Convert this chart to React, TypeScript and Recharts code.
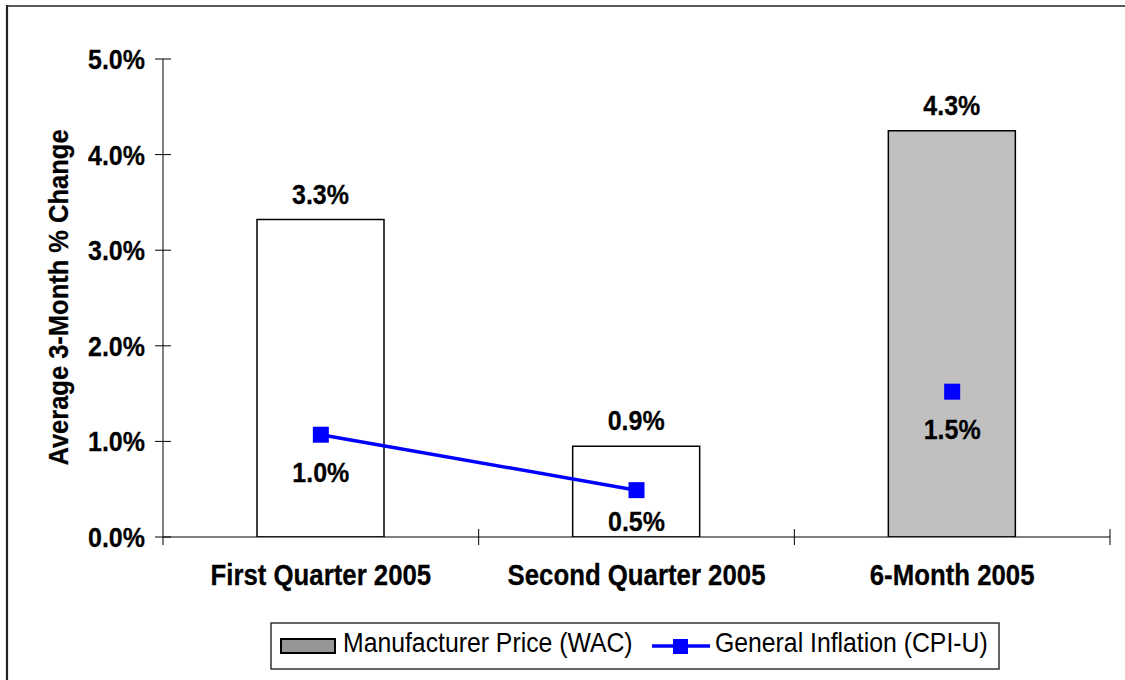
import React from 'react';
import { ComposedChart, Bar, Line, XAxis, YAxis, Cell, LabelList } from 'recharts';

const FONT = '"Liberation Sans", Arial, Helvetica, sans-serif';
const SY = 1.12;

const categories = ['First Quarter 2005', 'Second Quarter 2005', '6-Month 2005'];
const wacValues = [3.32, 0.95, 4.25];
const wacLabels = ['3.3%', '0.9%', '4.3%'];
const barFills = ['#ffffff', '#ffffff', '#c0c0c0'];
const cpiQuarterly = [1.07, 0.49, null];
const cpiSixMonth = [null, null, 1.52];
const cpiLabels = ['1.0%', '0.5%', '1.5%'];
const yTicks = [0, 1, 2, 3, 4, 5];
const legendNames = ['Manufacturer Price (WAC)', 'General Inflation (CPI-U)'];

const data = categories.map((name, i) => ({
  name,
  wac: wacValues[i],
  wacLabel: wacLabels[i],
  cpiQ: cpiQuarterly[i],
  cpiQLabel: cpiQuarterly[i] == null ? null : cpiLabels[i],
  cpi6: cpiSixMonth[i],
  cpi6Label: cpiSixMonth[i] == null ? null : cpiLabels[i],
}));

const Y_TICK_SIZE = 8;
const Y_TICK_MARGIN = 10;
const X_TICK_SIZE = 8;
const AXIS_BOTTOM = 537;

type STextProps = {
  x: number;
  y: number;
  children: React.ReactNode;
  size?: number;
  weight?: string;
  anchor?: 'start' | 'middle' | 'end';
  sy?: number;
  rotate?: number;
};

function SText({ x, y, children, size = 25, weight = 'bold', anchor = 'middle', sy = SY, rotate = 0 }: STextProps) {
  const t = rotate
    ? `translate(${x},${y}) rotate(${rotate}) scale(1,${sy})`
    : `translate(${x},${y}) scale(1,${sy})`;
  const heavy = weight === 'bold';
  return (
    <text
      transform={t}
      x={0}
      y={0}
      textAnchor={anchor}
      fontSize={size}
      fontWeight={weight}
      fontFamily={FONT}
      fill="#000"
      stroke={heavy ? '#000' : 'none'}
      strokeWidth={heavy ? 0.25 : 0}
    >
      {children}
    </text>
  );
}

const YTick = (p: any) => {
  const { x, y, payload } = p;
  const ax = x + Y_TICK_SIZE + Y_TICK_MARGIN;
  return (
    <g>
      <line x1={ax - 8} x2={ax + 8} y1={y} y2={y} stroke="#000" strokeWidth={1} />
      <SText x={x} y={y + 10} anchor="end">{Number(payload.value).toFixed(1) + '%'}</SText>
    </g>
  );
};

const XTick = (p: any) => {
  const { x, y, payload, index } = p;
  const axisY = y - X_TICK_SIZE;
  const half = payload && payload.offset ? payload.offset : 157.8;
  return (
    <g>
      <line x1={x + half} x2={x + half} y1={axisY - 8} y2={axisY + 8} stroke="#000" strokeWidth={1} />
      {index === 0 && <line x1={x - half} x2={x - half} y1={axisY} y2={axisY + 8} stroke="#000" strokeWidth={1} />}
      <SText x={x} y={axisY + 48} size={25.8}>{payload.value}</SText>
    </g>
  );
};

const BarLabel = (p: any) => {
  if (p.value == null) return null;
  const vb = p.viewBox || p;
  const cx = vb.x + (vb.width || 0) / 2;
  const top = Math.min(vb.y, vb.y + (vb.height || 0));
  return <SText x={cx} y={top - 16}>{p.value}</SText>;
};

const PointLabel = (p: any) => {
  if (p.value == null) return null;
  const vb = p.viewBox || p;
  const x = vb.x + (vb.width || 0) / 2;
  const y = vb.y;
  if (!Number.isFinite(x) || !Number.isFinite(y)) return null;
  return <SText x={x} y={Math.min(y + 47, AXIS_BOTTOM - 6)}>{p.value}</SText>;
};

const SquareDot = (p: any) => {
  const { cx, cy, index } = p;
  if (cx == null || cy == null || !Number.isFinite(cx) || !Number.isFinite(cy) || p.value == null) return <g key={`d-${index}`} />;
  return <rect key={`d-${index}`} x={cx - 8} y={cy - 8} width={16} height={16} fill="#0000ff" />;
};

export default function App() {
  return (
    <div style={{ position: 'absolute', left: 0, top: 0, width: 1125, height: 680, background: '#fff', overflow: 'hidden' }}>
      <ComposedChart width={1125} height={680} data={data} margin={{ top: 59, right: 15, bottom: 103, left: 0 }}>
        <XAxis
          dataKey="name"
          type="category"
          interval={0}
          height={40}
          tickSize={X_TICK_SIZE}
          tickMargin={0}
          tickLine={false}
          axisLine={{ stroke: '#000', strokeWidth: 1 }}
          tick={<XTick />}
        />
        <YAxis
          type="number"
          domain={[0, 5]}
          ticks={yTicks}
          width={163}
          tickSize={Y_TICK_SIZE}
          tickMargin={Y_TICK_MARGIN}
          tickLine={false}
          axisLine={{ stroke: '#000', strokeWidth: 1 }}
          tick={<YTick />}
          allowDataOverflow
        />
        <Bar dataKey="wac" barSize={127} stroke="#000" strokeWidth={1.5} isAnimationActive={false}>
          {data.map((d, i) => (
            <Cell key={`c-${i}`} fill={barFills[i]} />
          ))}
          <LabelList dataKey="wacLabel" content={<BarLabel />} />
        </Bar>
        <Line
          dataKey="cpiQ"
          stroke="#0000ff"
          strokeWidth={3.5}
          dot={<SquareDot />}
          activeDot={false}
          connectNulls={false}
          isAnimationActive={false}
        >
          <LabelList dataKey="cpiQLabel" content={<PointLabel />} />
        </Line>
        <Line
          dataKey="cpi6"
          stroke="none"
          strokeWidth={0}
          dot={<SquareDot />}
          activeDot={false}
          isAnimationActive={false}
        >
          <LabelList dataKey="cpi6Label" content={<PointLabel />} />
        </Line>
      </ComposedChart>
      <svg width={1125} height={680} style={{ position: 'absolute', left: 0, top: 0, pointerEvents: 'none' }}>
        <line x1={7} x2={7} y1={5} y2={680} stroke="#222" strokeWidth={2.2} />
        <line x1={6} x2={1125} y1={6} y2={6} stroke="#222" strokeWidth={1.5} />
        <SText x={68} y={297.5} rotate={-90} size={25.5} anchor="middle">
          {'Average 3-Month % Change'}
        </SText>
        <rect x={271} y={623} width={728} height={46} fill="#fff" stroke="#333" strokeWidth={1.5} />
        <rect x={281} y={639} width={54} height={14} fill="#969696" stroke="#000" strokeWidth={2} />
        <SText x={343} y={652} size={24.8} weight="normal" anchor="start" sy={1.1}>
          {legendNames[0]}
        </SText>
        <line x1={652} x2={710} y1={646} y2={646} stroke="#0000ff" strokeWidth={3.5} />
        <rect x={673} y={639} width={15} height={15} fill="#0000ff" />
        <SText x={715} y={652} size={24.8} weight="normal" anchor="start" sy={1.1}>
          {legendNames[1]}
        </SText>
      </svg>
    </div>
  );
}
